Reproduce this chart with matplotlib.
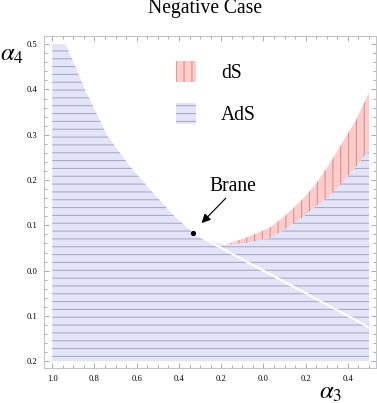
import matplotlib
matplotlib.use('Agg')
import matplotlib.pyplot as plt
import numpy as np
from matplotlib.patches import Patch
from matplotlib.ticker import MultipleLocator

# boundary of the AdS region on the left (alpha3, alpha4)
left_a3 = [-0.937, -0.890, -0.845, -0.742, -0.632, -0.506, -0.419, -1 / 3, -0.277, -0.230, -0.180]
left_a4 = [0.500, 0.450, 0.400, 0.300, 0.230, 0.163, 0.119, 1 / 12, 0.070, 0.062, 0.057]

# dS band, upper (towards the empty region) and lower (towards AdS) edges
ds_up_a3 = [-0.180, -0.080, 0.030, 0.100, 0.180, 0.246, 0.308, 0.372, 0.439, 0.500]
ds_up_a4 = [0.057, 0.073, 0.095, 0.120, 0.155, 0.190, 0.232, 0.281, 0.333, 0.393]
ds_lo_a3 = [-0.180, -0.080, 0.030, 0.100, 0.180, 0.246, 0.308, 0.372, 0.439, 0.500]
ds_lo_a4 = [0.057, 0.061, 0.072, 0.090, 0.116, 0.141, 0.162, 0.193, 0.230, 0.266]

# plot range of the regions
a3_min, a3_max = -1.0, 0.5
a4_min, a4_max = -0.2, 0.5

# brane point and the white line leaving it
brane = (-1 / 3, 1 / 12)
line_a3 = [-1 / 3, 0.5]
line_a4 = [1 / 12, -0.125]

# label and arrow for the brane
brane_label = (-0.146, 0.185)
arrow_tail = (-0.178, 0.160)
arrow_head = (-0.293, 0.105)

xtick_vals = [-1.0, -0.8, -0.6, -0.4, -0.2, 0.0, 0.2, 0.4]
xtick_labels = ['1.0', '0.8', '0.6', '0.4', '0.2', '0.0', '0.2', '0.4']
ytick_vals = [-0.2, -0.1, 0.0, 0.1, 0.2, 0.3, 0.4, 0.5]
ytick_labels = ['0.2', '0.1', '0.0', '0.1', '0.2', '0.3', '0.4', '0.5']

ads_face = '#e4e4f8'
ads_hatch = '#a8a8c4'
ds_face = '#ffcaca'
ds_hatch = '#c49494'

plt.rcParams['font.family'] = ['Liberation Serif', 'DejaVu Serif']
plt.rcParams['mathtext.fontset'] = 'stix'
plt.rcParams['hatch.linewidth'] = 0.8

W, H, DPI = 377, 403, 94
fig = plt.figure(figsize=(W / DPI, H / DPI), dpi=DPI)
ax = fig.add_axes([44 / W, 1 - 368 / H, 332 / W, 332 / H])

# AdS polygon: left boundary, then under the dS band, then down the box
ads_x = np.concatenate([[a3_min], left_a3, ds_lo_a3[1:], [a3_max, a3_min]])
ads_y = np.concatenate([[a4_max], left_a4, ds_lo_a4[1:], [a4_min, a4_min]])
ax.fill(ads_x, ads_y, facecolor=ads_face, edgecolor=ads_hatch, hatch='--', linewidth=0)

ds_x = np.concatenate([ds_lo_a3, ds_up_a3[::-1]])
ds_y = np.concatenate([ds_lo_a4, ds_up_a4[::-1]])
ax.fill(ds_x, ds_y, facecolor=ds_face, edgecolor=ds_hatch, hatch='||', linewidth=0)

ax.plot(line_a3, line_a4, color='white', lw=1.6, solid_capstyle='butt')
ax.plot(*brane, 'o', color='black', ms=3)

ax.text(*brane_label, 'Brane', ha='center', va='center', fontsize=15)
ax.annotate('', xy=arrow_head, xytext=arrow_tail,
            arrowprops=dict(arrowstyle='-|>', color='black', lw=0.9,
                            mutation_scale=14, shrinkA=0, shrinkB=0))

ax.set_xlim(-1.039, 0.533)
ax.set_ylim(-0.215, 0.518)

ax.set_xticks(xtick_vals)
ax.set_xticklabels(xtick_labels)
ax.set_yticks(ytick_vals)
ax.set_yticklabels(ytick_labels)
ax.xaxis.set_minor_locator(MultipleLocator(0.05))
ax.yaxis.set_minor_locator(MultipleLocator(0.02))
ax.tick_params(which='both', direction='in', top=True, right=True,
               color='#999999', labelsize=6.5, width=0.6)
ax.tick_params(which='major', length=3.5)
ax.tick_params(which='minor', length=2)
ax.tick_params(axis='x', pad=5)
ax.tick_params(axis='y', pad=5)
for s in ax.spines.values():
    s.set_color('#c4c4c4')
    s.set_linewidth(0.8)

handles = [Patch(facecolor=ds_face, edgecolor=ds_hatch, hatch='||', linewidth=0),
           Patch(facecolor=ads_face, edgecolor=ads_hatch, hatch='--', linewidth=0)]
fig.legend(handles, ['dS', 'AdS'], loc='upper left',
           bbox_to_anchor=(176 / W, 1 - 61 / H), frameon=False, fontsize=15,
           handlelength=1.0, handleheight=1.3, handletextpad=1.3,
           labelspacing=1.0, borderpad=0, borderaxespad=0)

fig.text(205 / W, 1 - 9 / H, 'Negative Case', ha='center', va='center', fontsize=15)
fig.text(12 / W, 1 - 55 / H, r'$\alpha_4$', ha='center', va='center', fontsize=19)
fig.text(331 / W, 1 - 393 / H, r'$\alpha_3$', ha='center', va='center', fontsize=19)

fig.savefig('out.png', dpi=DPI)
